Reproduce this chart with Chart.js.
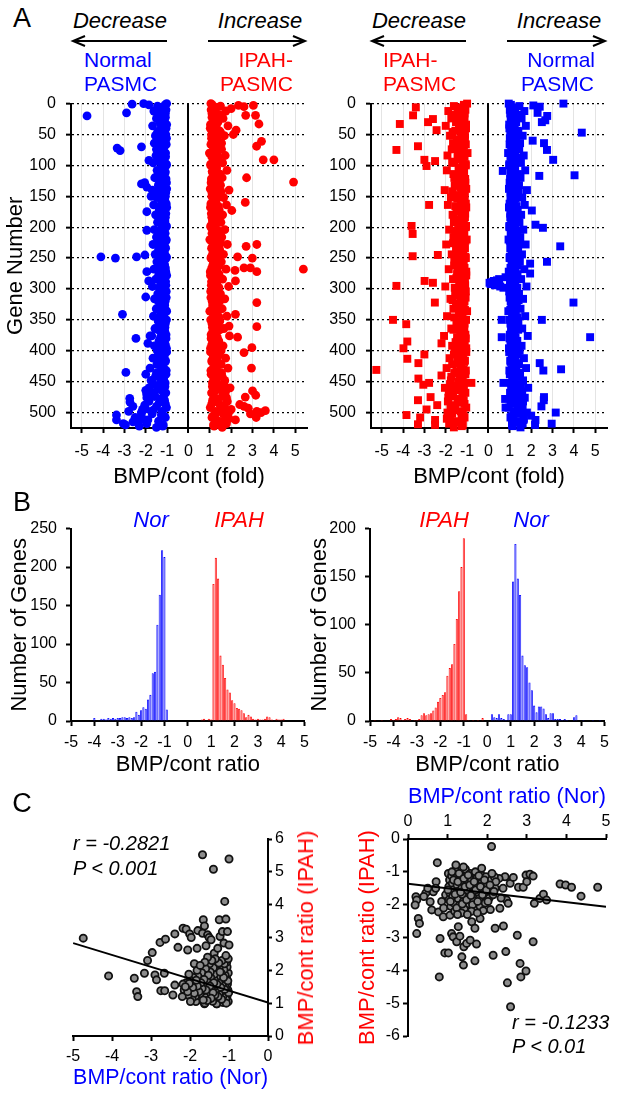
<!DOCTYPE html>
<html>
<head>
<meta charset="utf-8">
<script src="https://cdn.jsdelivr.net/npm/chart.js@4/dist/chart.umd.min.js"></script>
<style>
  body { margin: 0; background: #fff; }
  #fig { position: relative; width: 618px; height: 1093px; overflow: hidden; font-family: "Liberation Sans", Arial, sans-serif; }
  #fig canvas { position: absolute; }
  .t { position: absolute; white-space: nowrap; line-height: 1; z-index: 5; }
  svg { position: absolute; left: 0; top: 0; z-index: 5; }
</style>
</head>
<body>
<div id="fig"></div>
<script>
// ---- data ----
// Panel A: fold change per gene. *Fold lists start at gene 0, *Fold2 lists at gene 2, both every GENE_STEP genes
const GENE_STEP = 4;
const normDecFold = [
  -1.02,-1.45,-1.18,-1.62,-1.08,-1.31,-1.5,-1.12,-1.25,-1.68,-1.05,-1.38,
  -1.15,-1.55,-1.03,-1.28,-1.6,-1.1,-1.42,-1.2,-1.07,-1.52,-1.33,-1.14,
  -1.65,-1.04,-1.26,-1.47,-1.09,-1.36,-1.58,-1.16,-1.03,-1.41,-1.22,-1.7,
  -1.06,-1.3,-1.49,-1.11,-1.24,-1.63,-1.02,-1.37,-1.19,-1.54,-1.08,-1.29,
  -1.45,-1.13,-1.05,-1.6,-1.34,-1.17,-1.5,-1.04,-1.27,-1.66,-1.1,-1.4,
  -1.21,-1.56,-1.03,-1.32,-1.48,-1.12,-1.23,-1.62,-1.06,-1.39,-1.18,-1.53,
  -1.07,-1.3,-1.69,-1.14,-1.04,-1.44,-1.26,-1.59,-1.09,-1.35,-1.2,-1.51,
  -1.02,-1.28,-1.64,-1.15,-1.42,-1.08,-1.33,-1.57,-1.11,-1.25,-1.72,-1.05,
  -1.38,-1.19,-1.6,-1.03,-1.46,-1.29,-1.13,-1.66,-1.07,-1.36,-1.22,-1.8,
  -1.04,-1.5,-1.31,-1.16,-1.75,-1.09,-1.43,-1.85,-1.24,-1.06,-1.58,-1.95,
  -1.12,-1.37,-2.05,-1.03,-1.65,-2.2,-1.27,-1.08,-1.9,-2.35,-1.18,-1.5
];
const normDecFold2 = [
  -1.1,-1.3,-1.05,-1.22,-1.4,-1.08,-1.18,-1.35,-1.02,-1.27,-1.12,-1.45,
  -1.06,-1.2,-1.33,-1.1,-1.04,-1.25,-1.5,-1.15,-1.3,-1.07,-1.19,-1.38,
  -1.03,-1.16,-1.28,-1.09,-1.42,-1.21,-1.05,-1.34,-1.13,-1.24,-1.02,-1.46,
  -1.17,-1.08,-1.31,-1.2,-1.04,-1.36,-1.14,-1.26,-1.06,-1.41,-1.18,-1.1,
  -1.29,-1.03,-1.22,-1.37,-1.09,-1.15,-1.32,-1.05,-1.44,-1.19,-1.07,-1.27,
  -1.12,-1.35,-1.04,-1.23,-1.16,-1.4,-1.08,-1.3,-1.2,-1.02,-1.33,-1.13,
  -1.25,-1.06,-1.38,-1.17,-1.09,-1.28,-1.04,-1.45,-1.21,-1.11,-1.34,-1.07,
  -1.24,-1.15,-1.39,-1.03,-1.27,-1.18,-1.1,-1.43,-1.22,-1.05,-1.31,-1.14,
  -1.36,-1.08,-1.26,-1.19,-1.02,-1.4,-1.16,-1.3,-1.09,-1.48,-1.23,-1.12,
  -1.35,-1.05,-1.55,-1.2,-1.28,-1.65,-1.1,-1.42,-1.75,-1.15,-1.6,-1.3,
  -1.85,-1.08,-1.5,-2.0,-1.25,-1.7,-1.12,-2.15,-1.4,-1.95,-1.2
];
const ipahIncFold = [
  1.05,1.5,1.22,1.75,1.1,1.38,1.62,1.15,1.3,1.85,1.02,1.45,
  1.2,1.68,1.08,1.35,1.55,1.12,1.48,1.25,0.98,1.72,1.4,1.18,
  1.6,1.04,1.32,1.8,1.14,1.42,1.58,1.2,1.06,1.5,1.28,1.9,
  1.1,1.36,1.65,1.16,1.27,1.78,1.03,1.44,1.24,1.6,1.09,1.34,
  1.52,1.17,1.05,1.7,1.4,1.22,1.56,1.0,1.3,1.82,1.13,1.46,
  1.26,1.64,1.07,1.38,1.54,1.15,1.29,1.76,1.02,1.43,1.2,1.6,
  1.08,1.33,1.88,1.18,1.04,1.5,1.3,1.7,1.11,1.4,1.23,1.58,
  1.0,1.35,1.8,1.19,1.47,1.1,1.37,1.66,1.14,1.28,1.92,1.06,
  1.42,1.21,1.62,1.03,1.53,1.32,1.16,1.74,1.09,1.39,1.25,1.85,
  1.05,1.55,1.34,1.18,1.7,1.12,1.45,1.95,1.27,1.08,1.6,1.78,
  1.13,1.4,1.68,1.02,1.52,1.88,1.24,1.1,1.72,1.36,1.17,1.58
];
const ipahIncFold2 = [
  1.12,1.32,1.06,1.25,1.45,1.1,1.2,1.38,1.03,1.3,1.15,1.5,
  1.08,1.22,1.36,1.12,1.05,1.28,1.55,1.18,1.33,1.09,1.21,1.42,
  1.04,1.17,1.3,1.11,1.47,1.24,1.07,1.37,1.14,1.26,1.02,1.52,
  1.19,1.09,1.34,1.23,1.05,1.4,1.16,1.29,1.07,1.46,1.2,1.12,
  1.32,1.04,1.25,1.41,1.1,1.17,1.35,1.06,1.49,1.22,1.08,1.3,
  1.14,1.39,1.05,1.26,1.18,1.44,1.09,1.33,1.23,1.03,1.37,1.15,
  1.28,1.07,1.43,1.19,1.11,1.31,1.05,1.5,1.24,1.13,1.38,1.08,
  1.27,1.17,1.44,1.04,1.3,1.21,1.12,1.48,1.25,1.06,1.35,1.16,
  1.4,1.09,1.29,1.22,1.03,1.45,1.18,1.34,1.1,1.53,1.26,1.14,
  1.39,1.06,1.58,1.23,1.31,1.66,1.12,1.46,1.74,1.17,1.6,1.33,
  1.82,1.09,1.5,1.7,1.27,1.62,1.13,1.9,1.42,1.78,1.2
];
const ipahDecFold = [
  -1.0,-1.62,-1.28,-1.88,-1.12,-1.46,-1.74,-1.18,-1.36,-2.0,-1.05,-1.55,
  -1.24,-1.8,-1.1,-1.4,-1.66,-1.15,-1.52,-1.3,-0.98,-1.92,-1.44,-1.2,
  -1.7,-1.06,-1.34,-1.95,-1.16,-1.48,-1.6,-1.22,-1.08,-1.58,-1.32,-2.05,
  -1.12,-1.42,-1.76,-1.18,-1.28,-1.9,-1.04,-1.5,-1.26,-1.68,-1.1,-1.38,
  -1.62,-1.2,-1.06,-1.84,-1.44,-1.24,-1.64,-1.02,-1.33,-1.98,-1.14,-1.52,
  -1.28,-1.72,-1.08,-1.4,-1.6,-1.16,-1.3,-1.86,-1.04,-1.47,-1.22,-1.66,
  -1.1,-1.36,-2.02,-1.2,-1.06,-1.56,-1.32,-1.78,-1.12,-1.44,-1.26,-1.64,
  -1.0,-1.38,-1.94,-1.22,-1.5,-1.12,-1.4,-1.74,-1.16,-1.3,-2.08,-1.06,
  -1.46,-1.24,-1.7,-1.04,-1.58,-1.34,-1.18,-1.82,-1.1,-1.42,-1.28,-1.96,
  -1.06,-1.6,-1.36,-1.2,-1.76,-1.14,-1.5,-2.04,-1.3,-1.08,-1.66,-1.88,
  -1.16,-1.44,-1.74,-1.04,-1.56,-1.92,-1.26,-1.12,-1.8,-1.4,-1.2,-1.62
];
const ipahDecFold2 = [
  -1.15,-1.45,-1.08,-1.3,-1.6,-1.12,-1.25,-1.52,-1.05,-1.38,-1.2,-1.68,
  -1.1,-1.28,-1.48,-1.16,-1.06,-1.34,-1.72,-1.22,-1.44,-1.12,-1.26,-1.58,
  -1.07,-1.2,-1.4,-1.14,-1.64,-1.3,-1.09,-1.5,-1.18,-1.33,-1.04,-1.7,
  -1.24,-1.11,-1.46,-1.29,-1.06,-1.55,-1.2,-1.37,-1.09,-1.62,-1.26,-1.15,
  -1.42,-1.05,-1.31,-1.56,-1.13,-1.22,-1.48,-1.08,-1.66,-1.27,-1.1,-1.4,
  -1.18,-1.53,-1.06,-1.32,-1.23,-1.6,-1.12,-1.45,-1.29,-1.04,-1.5,-1.19,
  -1.36,-1.09,-1.58,-1.25,-1.14,-1.42,-1.07,-1.68,-1.3,-1.16,-1.52,-1.1,
  -1.34,-1.22,-1.6,-1.05,-1.4,-1.27,-1.13,-1.64,-1.32,-1.08,-1.47,-1.2,
  -1.54,-1.11,-1.36,-1.28,-1.04,-1.62,-1.23,-1.46,-1.14,-1.7,-1.33,-1.17,
  -1.5,-1.08,-1.74,-1.3,-1.4,-1.8,-1.15,-1.58,-1.86,-1.22,-1.66,-1.38,
  -1.9,-1.12,-1.56,-1.78,-1.3,-1.7,-1.16,-1.95,-1.48,-1.84,-1.25
];
const normIncFold = [
  0.95,1.45,1.15,1.68,1.02,1.3,1.55,1.08,1.22,1.75,0.98,1.38,
  1.12,1.6,1.0,1.28,1.48,1.06,1.4,1.18,0.92,1.65,1.33,1.1,
  1.52,0.97,1.25,1.72,1.07,1.36,1.5,1.14,0.99,1.43,1.2,1.8,
  1.04,1.3,1.58,1.09,1.2,1.7,0.96,1.37,1.16,1.53,1.02,1.27,
  1.45,1.1,0.98,1.63,1.33,1.15,1.49,0.94,1.23,1.74,1.06,1.39,
  1.19,1.57,1.0,1.31,1.47,1.08,1.22,1.68,0.95,1.36,1.13,1.53,
  1.01,1.26,1.78,1.11,0.97,1.43,1.23,1.62,1.04,1.33,1.16,1.5,
  0.93,1.28,1.72,1.12,1.4,1.03,1.3,1.58,1.07,1.21,1.84,0.99,
  1.35,1.14,1.55,0.96,1.46,1.25,1.09,1.66,1.02,1.32,1.18,1.76,
  0.98,1.48,1.27,1.11,1.62,1.05,1.38,1.86,1.2,1.01,1.52,1.7,
  1.06,1.33,1.6,0.95,1.45,1.8,1.17,1.03,1.64,1.29,1.1,1.5
];
const normIncFold2 = [
  1.05,1.25,1.0,1.18,1.36,1.04,1.14,1.3,0.97,1.22,1.08,1.4,
  1.02,1.16,1.28,1.06,0.99,1.2,1.44,1.1,1.26,1.03,1.15,1.33,
  0.98,1.11,1.24,1.05,1.38,1.17,1.01,1.29,1.08,1.19,0.96,1.42,
  1.13,1.03,1.27,1.16,0.99,1.32,1.1,1.22,1.02,1.37,1.14,1.06,
  1.25,0.98,1.18,1.34,1.04,1.11,1.28,1.0,1.4,1.16,1.02,1.23,
  1.08,1.31,0.99,1.19,1.12,1.36,1.03,1.26,1.16,0.97,1.3,1.09,
  1.21,1.01,1.35,1.13,1.05,1.24,0.99,1.41,1.17,1.07,1.29,1.02,
  1.2,1.11,1.36,0.98,1.23,1.14,1.06,1.39,1.18,1.0,1.27,1.1,
  1.32,1.03,1.22,1.15,0.97,1.37,1.12,1.26,1.04,1.43,1.19,1.08,
  1.3,1.0,1.46,1.16,1.24,1.52,1.06,1.35,1.58,1.11,1.44,1.25,
  1.62,1.03,1.38,1.55,1.2,1.48,1.07,1.66,1.33,1.6,1.14
];
// scattered genes off the main band: [gene number, fold]
const normDecOut = [[20,-4.75],[15,-2.9],[1,-2.64],[0,-2.1],[2,-1.85],[72,-3.34],[76,-3.2],[70,-2.2],[92,-1.85],
  [130,-2.2],[135,-1.95],[128,-2.05],[150,-1.75],[175,-1.95],[205,-1.95],[248,-4.1],[250,-3.42],[248,-2.43],
  [245,-2.04],[272,-1.95],[287,-1.86],[313,-2.0],[341,-3.09],[380,-2.46],[376,-1.8],[388,-1.9],[435,-2.93],
  [438,-2.0],[464,-2.0],[470,-1.96],[477,-2.75],[483,-2.74],[490,-2.6],[498,-2.8],[500,-2.2],[504,-3.37],
  [512,-3.37],[515,-2.6],[520,-2.95],[522,-2.3],[508,-2.5],[495,-2.15],[518,-3.05]];
const ipahIncOut = [[3,2.34],[3,3.04],[5,2.6],[19,2.68],[19,3.14],[33,3.3],[43,2.23],[61,3.42],[69,3.19],
  [91,3.5],[91,4.0],[120,2.72],[127,4.92],[8,2.0],[50,2.1],[160,2.66],[173,2.03],[228,3.2],[231,2.7],
  [250,2.99],[248,2.3],[266,2.6],[266,2.9],[270,2.18],[272,3.2],[268,5.38],[287,2.2],[322,3.2],[341,2.2],
  [360,1.9],[361,3.2],[378,2.3],[403,2.6],[395,2.97],[428,2.95],[465,3.0],[472,3.15],[475,2.66],[487,2.4],
  [490,2.6],[493,2.8],[498,3.2],[497,3.6],[500,3.4],[508,3.17],[502,2.9],[512,2.2],[495,2.0]];
const ipahDecOut = [[6,-3.4],[19,-3.53],[33,-4.15],[30,-2.83],[25,-2.6],[43,-2.43],[69,-3.3],[75,-4.31],
  [91,-3.0],[101,-2.9],[93,-2.5],[164,-2.78],[198,-3.6],[211,-3.55],[247,-3.55],[245,-2.37],[287,-2.99],
  [295,-4.31],[290,-2.6],[322,-2.51],[350,-4.47],[357,-3.85],[385,-3.8],[388,-2.2],[396,-3.98],[406,-3.0],
  [413,-3.8],[420,-3.28],[431,-5.25],[445,-3.28],[452,-2.78],[452,-0.8],[475,-2.71],[480,-3.3],[488,-2.4],
  [495,-2.9],[504,-3.84],[508,-3.2],[512,-2.5],[519,-3.3],[520,-2.5],[500,-1.2],[455,-3.05],[440,-2.2]];
const normIncOut = [[0,3.51],[3,2.1],[5,2.4],[15,2.3],[20,2.75],[27,2.66],[30,2.5],[47,4.37],[60,2.07],
  [64,2.6],[75,2.74],[91,3.03],[109,0.67],[116,4.03],[117,2.38],[173,2.03],[196,2.2],[201,2.55],[231,3.36],
  [256,2.74],[259,1.95],[275,1.95],[281,0.8],[284,0.5],[286,0.4],[287,0.25],[289,0.15],[290,0.05],[292,0.1],
  [294,0.3],[296,0.55],[298,0.7],[322,3.98],[350,2.5],[350,0.62],[378,4.76],[378,0.62],[420,2.4],[430,3.4],
  [432,2.57],[452,0.7],[475,2.6],[478,0.78],[480,2.59],[490,2.48],[492,0.8],[500,3.15],[518,2.96],
  [520,2.18],[512,2.2],[505,2.0]];

// Panel B: histograms, bin centre (ratio) and number of genes
const b1NorBins = [-4.0,-3.8,-3.7,-3.6,-3.5,-3.4,-3.3,-3.2,-3.1,-3.0,-2.9,-2.8,-2.7,-2.6,-2.5,-2.4,-2.3,-2.2,-2.1,-2.0,-1.9,-1.8,-1.7,-1.6,-1.5,-1.4,-1.3,-1.2,-1.1,-1.0,-0.9];
const b1NorCounts = [4,1,3,3,2,4,3,4,3,4,4,5,5,4,5,4,5,12,8,14,18,16,28,34,62,64,125,164,222,213,15];
const b1IpahBins = [0.6,0.7,0.8,0.9,1.0,1.1,1.2,1.3,1.4,1.5,1.6,1.7,1.8,1.9,2.0,2.1,2.2,2.3,2.4,2.5,2.6,2.7,2.8,2.9,3.0,3.1,3.2,3.3,3.4,3.5,3.6,3.7,3.8,3.9,4.0,4.1];
const b1IpahCounts = [2,3,1,3,2,178,212,185,85,73,56,41,37,27,23,17,16,14,10,5,8,6,3,2,3,2,2,3,6,5,2,1,3,2,2,3];
const b2IpahBins = [-4.8,-4.5,-4.1,-4.0,-3.9,-3.8,-3.7,-3.6,-3.5,-3.4,-3.3,-3.1,-3.0,-2.9,-2.8,-2.7,-2.6,-2.5,-2.4,-2.3,-2.2,-2.1,-2.0,-1.9,-1.8,-1.7,-1.6,-1.5,-1.4,-1.3,-1.2,-1.1,-1.0,-0.9,-0.8,-0.6,-0.4,-0.2];
const b2IpahCounts = [1,1,2,1,2,4,3,1,2,3,2,1,1,2,6,8,6,7,8,11,14,20,24,27,30,47,55,59,80,106,135,160,190,7,1,1,1,3];
const b2NorBins = [0.2,0.3,0.4,0.5,0.6,0.7,0.8,0.9,1.0,1.1,1.2,1.3,1.4,1.5,1.6,1.7,1.8,1.9,2.0,2.1,2.2,2.3,2.4,2.5,2.6,2.7,2.8,2.9,3.0,3.1,3.2,3.3,3.4,3.7,3.8,4.1,4.5,4.8];
const b2NorCounts = [7,4,3,7,3,2,1,7,7,145,184,148,131,68,58,56,40,32,16,9,15,15,13,7,3,8,8,2,2,2,1,2,1,4,6,1,1,1];

// Panel C: [Nor ratio, IPAH ratio] per gene
const corrDec = [
  [-4.74,2.98],[-4.09,1.83],[-3.43,1.76],[-3.37,1.35],[-3.34,1.2],[-3.17,1.91],[-3.09,2.3],[-2.97,2.54],
  [-2.9,1.86],[-2.86,1.71],[-2.75,1.38],[-2.77,2.85],[-2.63,2.95],[-2.65,1.38],[-2.66,1.91],[-2.39,3.11],
  [-2.44,1.25],[-2.31,2.7],[-2.39,1.55],[-2.18,3.28],[-2.1,3.25],[-2.06,2.62],[-2.01,3.11],[-1.97,3.0],
  [-1.89,2.2],[-1.8,3.21],[-1.82,2.67],[-1.68,5.52],[-1.66,3.54],[-1.63,3.35],[-1.68,3.13],[-1.59,2.75],
  [-1.55,3.08],[-1.51,3.0],[-1.46,2.93],[-1.4,5.08],[-1.38,2.52],[-1.29,2.67],[-1.25,3.54],[-1.23,3.03],
  [-1.17,3.18],[-1.11,4.1],[-1.08,3.56],[-1.04,3.18],[-1.13,2.83],[-1.0,5.39],[-1.0,2.77],[-1.63,0.98],[-1.31,0.98],
  [-1.02,1.05],[-1.05,1.22],[-1.03,1.4],[-1.04,1.58],[-1.06,1.75],[-1.02,1.92],[-1.05,2.1],[-1.08,1.12],
  [-1.1,1.3],[-1.09,1.48],[-1.12,1.66],[-1.1,1.85],[-1.13,2.02],[-1.15,1.02],[-1.16,1.2],[-1.18,1.38],
  [-1.17,1.55],[-1.2,1.72],[-1.19,1.9],[-1.22,2.15],[-1.24,1.1],[-1.25,1.28],[-1.27,1.46],[-1.26,1.64],
  [-1.29,1.82],[-1.3,2.0],[-1.32,0.98],[-1.33,1.17],[-1.35,1.35],[-1.34,1.53],[-1.37,1.7],[-1.38,1.88],
  [-1.4,2.08],[-1.42,1.06],[-1.43,1.25],[-1.45,1.42],[-1.44,1.6],[-1.47,1.78],[-1.48,1.95],[-1.5,2.2],
  [-1.52,1.12],[-1.54,1.3],[-1.55,1.5],[-1.57,1.68],[-1.58,1.86],[-1.6,2.05],[-1.62,1.0],[-1.63,1.2],
  [-1.65,1.38],[-1.67,1.57],[-1.68,1.75],[-1.7,1.93],[-1.73,1.1],[-1.75,1.28],[-1.76,1.47],[-1.78,1.65],
  [-1.8,1.83],[-1.82,2.0],[-1.85,1.05],[-1.86,1.22],[-1.88,1.4],[-1.9,1.6],[-1.92,1.78],[-1.95,1.15],
  [-1.97,1.33],[-1.98,1.52],[-2.0,1.7],[-2.03,1.88],[-2.05,1.25],[-2.08,1.45],[-2.1,1.62],[-2.15,1.4],
  [-2.18,1.58],[-2.2,1.2],[-1.01,1.32],[-1.03,1.68],[-1.07,1.0],[-1.11,1.42],[-1.14,1.78],[-1.19,1.12],
  [-1.21,1.48],[-1.23,1.95],[-1.28,1.2],[-1.31,1.58],[-1.36,1.25],[-1.39,1.62],[-1.41,1.32],[-1.46,1.15],
  [-1.49,1.52],[-1.53,1.85],[-1.56,1.08],[-1.59,1.4],[-1.64,1.72],[-1.66,1.1],[-1.69,1.45],[-1.72,1.62],
  [-1.77,1.35],[-1.81,1.52],[-1.84,1.7],[-1.89,1.3],[-1.93,1.48],[-1.99,1.05],[-2.02,1.6],[-2.06,1.35],
  [-2.12,1.5],[-1.06,2.25],[-1.12,2.2],[-1.18,2.3],[-1.26,2.22],[-1.35,2.35],[-1.44,2.3],[-1.55,2.4],
  [-1.62,2.25],[-1.74,2.15],[-1.02,2.35],[-1.08,2.45]
];
const corrInc = [
  [2.11,-0.23],[0.74,-0.72],[0.2,-1.76],[0.22,-1.86],[0.18,-2.01],[0.22,-2.88],[0.26,-2.42],[0.29,-2.57],
  [0.56,-1.91],[0.64,-1.61],[0.71,-1.3],[0.6,-2.16],[0.77,-2.22],[0.81,-3.03],[0.79,-4.2],[0.93,-3.47],
  [1.02,-3.47],[0.89,-2.37],[1.06,-2.32],[1.1,-2.88],[1.14,-2.98],[1.23,-3.13],[1.27,-2.67],[1.31,-2.96],
  [1.36,-3.59],[1.4,-3.84],[1.41,-3.28],[1.48,-3.18],[1.57,-3.08],[1.61,-2.52],[1.69,-2.72],[1.69,-3.71],
  [1.73,-3.2],[1.82,-2.42],[2.15,-3.54],[2.2,-2.72],[2.41,-2.65],[2.47,-3.43],[2.51,-4.38],[2.59,-5.11],
  [2.76,-2.93],[2.83,-3.79],[2.85,-4.2],[2.98,-4.02],[3.16,-3.13],[3.19,-1.96],[2.45,-1.15],[2.58,-1.35],
  [2.66,-1.17],[2.79,-1.47],[2.91,-1.47],[2.98,-1.1],[3.08,-1.07],[3.16,-1.13],[3.0,-1.3],[2.49,-1.86],
  [2.53,-1.96],[2.32,-2.11],[3.33,-1.81],[3.42,-1.68],[3.5,-1.86],[3.84,-1.37],[3.98,-1.4],[4.13,-1.47],
  [4.37,-1.74],[4.79,-1.47],[0.45,-1.65],[0.5,-1.5],[0.85,-1.9],[0.9,-2.1],[0.95,-1.7],[0.7,-1.5],
  [0.4,-1.75],[2.3,-1.2],[2.4,-1.5],[2.35,-1.8],
  [1.02,-1.05],[1.05,-1.25],[1.03,-1.45],[1.06,-1.65],[1.04,-1.85],[1.08,-2.05],[1.1,-1.12],[1.12,-1.35],
  [1.14,-1.55],[1.13,-1.75],[1.16,-1.95],[1.18,-2.2],[1.2,-0.95],[1.22,-1.18],[1.24,-1.4],[1.25,-1.6],
  [1.27,-1.82],[1.3,-2.02],[1.32,-1.08],[1.34,-1.28],[1.36,-1.5],[1.38,-1.7],[1.4,-1.9],[1.42,-2.12],
  [1.45,-0.92],[1.47,-1.15],[1.49,-1.35],[1.5,-1.55],[1.53,-1.78],[1.55,-1.98],[1.57,-1.05],[1.6,-1.25],
  [1.62,-1.45],[1.64,-1.65],[1.66,-1.88],[1.68,-2.1],[1.7,-1.0],[1.73,-1.2],[1.75,-1.4],[1.77,-1.62],
  [1.8,-1.82],[1.82,-2.05],[1.85,-1.1],[1.87,-1.32],[1.9,-1.52],[1.92,-1.72],[1.95,-1.95],[1.97,-1.15],
  [2.0,-1.38],[2.03,-1.6],[2.05,-1.8],[2.08,-2.15],[2.1,-1.25],[2.13,-1.48],[2.15,-1.7],[2.18,-1.15],
  [2.2,-1.5],[2.22,-1.3],[1.01,-1.55],[1.07,-1.9],[1.11,-1.0],[1.15,-1.25],[1.19,-1.68],[1.23,-2.1],
  [1.26,-1.3],[1.29,-1.05],[1.33,-1.62],[1.37,-1.98],[1.41,-1.2],[1.44,-1.45],[1.48,-1.85],[1.52,-1.1],
  [1.56,-1.4],[1.59,-1.72],[1.63,-2.0],[1.67,-1.3],[1.71,-1.55],[1.76,-1.9],[1.79,-1.12],[1.83,-1.45],
  [1.88,-1.7],[1.93,-1.25],[1.98,-1.55],[2.02,-1.9],[2.07,-1.4],[2.12,-1.05],[2.17,-1.6],[1.35,-2.25],
  [1.6,-2.2],[1.9,-2.18],[1.25,-2.3],[1.5,-2.3],[1.75,-2.25],[1.86,-0.89],[1.21,-0.79],[1.4,-0.85]
];
// regression lines (axis-end values)
const fitDecX = [-5, 0], fitDecY = [2.83, 1.02];
const fitIncX = [0, 5], fitIncY = [-1.36, -2.06];

// ---- drawing ----
const BLUE = '#0000ff', RED = '#ff0000';
Chart.defaults.font.family = '"Liberation Sans", Arial, sans-serif';
Chart.defaults.color = '#000';
Chart.defaults.animation = false;
Chart.defaults.plugins.legend.display = false;
Chart.defaults.plugins.tooltip.enabled = false;

const fig = document.getElementById('fig');

function txt(s, x, y, o = {}) {
  const d = document.createElement('div');
  d.className = 't';
  d.textContent = s;
  d.style.left = x + 'px';
  d.style.top = y + 'px';
  d.style.fontSize = (o.size || 21) + 'px';
  d.style.color = o.color || '#000';
  if (o.italic) d.style.fontStyle = 'italic';
  const ax = o.align === 'left' ? '0' : o.align === 'right' ? '-100%' : '-50%';
  d.style.transform = `translate(${ax},-50%)` + (o.rot ? ` rotate(${o.rot}deg)` : '');
  fig.appendChild(d);
}

function canvasAt(b) {
  const c = document.createElement('canvas');
  c.width = b.w; c.height = b.h;
  c.style.left = b.x + 'px'; c.style.top = b.y + 'px';
  fig.appendChild(c);
  return c;
}

function axis(o) {
  return {
    type: 'linear', position: o.pos, min: o.min, max: o.max, reverse: !!o.reverse, offset: false,
    afterFit: s => { if (s.isHorizontal()) s.height = o.size; else s.width = o.size; },
    ticks: { stepSize: o.step, includeBounds: false, autoSkip: false, maxRotation: 0,
             font: { size: 16 }, color: '#000', padding: o.tickPad },
    grid: { display: true, offset: false, drawOnChartArea: !!o.gridColor,
            color: o.gridColor || '#000', lineWidth: o.gridWidth || 1,
            tickColor: '#000', tickWidth: 2, tickLength: o.tickLen || 5, tickBorderDash: [] },
    border: { color: '#000', width: 2, dash: o.dash || [] },
    title: o.title ? { display: true, text: o.title, color: o.titleColor || '#000',
                       font: { size: 22 }, padding: { top: o.titlePad, bottom: o.titlePad } }
                   : { display: false }
  };
}

// box = canvas rectangle, area = wanted plot rectangle (page pixels)
function makeChart(box, area, type, datasets, xo, yo) {
  const pad = { left: area.l - box.x, top: area.t - box.y, right: box.x + box.w - area.r, bottom: box.y + box.h - area.b };
  if (yo.pos === 'left') { yo.size = pad.left; pad.left = 0; } else { yo.size = pad.right; pad.right = 0; }
  if (xo.pos === 'bottom') { xo.size = pad.bottom; pad.bottom = 0; } else { xo.size = pad.top; pad.top = 0; }
  return new Chart(canvasAt(box), {
    type, data: { datasets },
    options: {
      responsive: false, devicePixelRatio: 1,
      layout: { padding: pad },
      scales: { x: axis(xo), y: axis(yo) }
    }
  });
}

const band = (vals, first) => vals.map((v, i) => ({ x: v, y: first + i * GENE_STEP }));
const outl = arr => arr.map(([g, f]) => ({ x: f, y: g }));
const dots = (data, color, style, r) => ({ data, pointStyle: style, pointRadius: r, pointBorderWidth: 0,
  backgroundColor: color, borderColor: color, clip: false });
const zeroGrid = {
  color: c => (c.tick && c.tick.value === 0) ? '#000' : '#e4e4e4',
  width: c => (c.tick && c.tick.value === 0) ? 2 : 1
};

// Panel A
function panelA(box, area, sets, withTitle) {
  makeChart(box, area, 'scatter', sets,
    { pos: 'bottom', min: -5.5, max: 5.55, step: 1, tickPad: 9, gridColor: zeroGrid.color, gridWidth: zeroGrid.width,
      title: 'BMP/cont (fold)', titlePad: 2 },
    { pos: 'left', min: 0, max: 525, step: 50, reverse: true, tickPad: 10, gridColor: '#000', gridWidth: 1.3,
      dash: [2, 3], title: withTitle ? 'Gene Number' : null, titlePad: 3 });
}
panelA({ x: 0, y: 84, w: 312, h: 408 }, { l: 71, t: 98, r: 307, b: 428 }, [
  dots(band(normDecFold, 0), BLUE, 'circle', 4.4), dots(band(normDecFold2, 2), BLUE, 'circle', 4.4),
  dots(outl(normDecOut), BLUE, 'circle', 4.4),
  dots(band(ipahIncFold, 0), RED, 'circle', 4.4), dots(band(ipahIncFold2, 2), RED, 'circle', 4.4),
  dots(outl(ipahIncOut), RED, 'circle', 4.4)
], true);
panelA({ x: 300, y: 84, w: 316, h: 408 }, { l: 371, t: 98, r: 607, b: 428 }, [
  dots(band(ipahDecFold, 0), RED, 'rect', 5.6), dots(band(ipahDecFold2, 2), RED, 'rect', 5.6),
  dots(outl(ipahDecOut), RED, 'rect', 5.6),
  dots(band(normIncFold, 0), BLUE, 'rect', 5.6), dots(band(normIncFold2, 2), BLUE, 'rect', 5.6),
  dots(outl(normIncOut), BLUE, 'rect', 5.6)
], false);

// Panel B
const hist = (bins, counts, fill, edge) => ({
  data: bins.map((b, i) => ({ x: b, y: counts[i] })),
  backgroundColor: fill, borderColor: edge, borderWidth: 0.8,
  barPercentage: 0.92, categoryPercentage: 1, grouped: false
});
function panelB(box, area, ymax, sets) {
  makeChart(box, area, 'bar', sets,
    { pos: 'bottom', min: -5, max: 5, step: 1, tickPad: 7, title: 'BMP/cont ratio', titlePad: 2 },
    { pos: 'left', min: 0, max: ymax, step: 50, tickPad: 9, title: 'Number of Genes', titlePad: 6.8 });
}
panelB({ x: 0, y: 510, w: 316, h: 270 }, { l: 71, t: 524, r: 307, b: 721 }, 250, [
  hist(b1NorBins, b1NorCounts, 'rgba(40,40,255,0.55)', BLUE),
  hist(b1IpahBins, b1IpahCounts, 'rgba(255,40,40,0.5)', RED)
]);
panelB({ x: 300, y: 510, w: 316, h: 270 }, { l: 370, t: 524, r: 606, b: 721 }, 200, [
  hist(b2IpahBins, b2IpahCounts, 'rgba(255,40,40,0.5)', RED),
  hist(b2NorBins, b2NorCounts, 'rgba(40,40,255,0.55)', BLUE)
]);

// Panel C
const fitLine = (xs, ys) => ({ data: xs.map((x, i) => ({ x, y: ys[i] })), showLine: true, pointRadius: 0,
  borderColor: '#000', borderWidth: 2 });
const rings = pairs => ({ data: pairs.map(([x, y]) => ({ x, y })), pointRadius: 3.6, pointBorderWidth: 1.8,
  borderColor: '#111', backgroundColor: '#8c8c8c', clip: false });
makeChart({ x: 60, y: 825, w: 260, h: 268 }, { l: 71, t: 839, r: 268, b: 1036 }, 'scatter',
  [fitLine(fitDecX, fitDecY), rings(corrDec)],
  { pos: 'bottom', min: -5, max: 0, step: 1, tickPad: 6, title: 'BMP/cont ratio (Nor)', titleColor: BLUE, titlePad: 2 },
  { pos: 'right', min: 0, max: 6, step: 1, tickPad: 3, tickLen: 4 });
makeChart({ x: 330, y: 783, w: 286, h: 268 }, { l: 408, t: 839, r: 606, b: 1036 }, 'scatter',
  [fitLine(fitIncX, fitIncY), rings(corrInc)],
  { pos: 'top', min: 0, max: 5, step: 1, tickPad: 3, title: 'BMP/cont ratio (Nor)', titleColor: BLUE, titlePad: 1 },
  { pos: 'left', min: -6, max: 0, step: 1, tickPad: 3, title: 'BMP/cont ratio (IPAH)', titleColor: RED, titlePad: 24.8 });

// ---- annotations ----
txt('A', 22, 18, { size: 27 });
txt('B', 22, 502, { size: 27 });
txt('C', 22, 803, { size: 27 });

txt('Decrease', 120, 21, { italic: true, size: 22 });
txt('Increase', 260, 21, { italic: true, size: 22 });
txt('Decrease', 419, 21, { italic: true, size: 22 });
txt('Increase', 559, 21, { italic: true, size: 22 });
txt('Normal', 84, 59, { color: BLUE, align: 'left' });
txt('PASMC', 84, 83, { color: BLUE, align: 'left' });
txt('IPAH-', 293, 59, { color: RED, align: 'right' });
txt('PASMC', 293, 83, { color: RED, align: 'right' });
txt('IPAH-', 383, 59, { color: RED, align: 'left' });
txt('PASMC', 383, 83, { color: RED, align: 'left' });
txt('Normal', 595, 59, { color: BLUE, align: 'right' });
txt('PASMC', 594, 83, { color: BLUE, align: 'right' });

txt('Nor', 151, 520, { color: BLUE, italic: true, size: 22 });
txt('IPAH', 239, 520, { color: RED, italic: true, size: 22 });
txt('IPAH', 444, 520, { color: RED, italic: true, size: 22 });
txt('Nor', 531, 520, { color: BLUE, italic: true, size: 22 });

txt('r = -0.2821', 73, 843, { italic: true, size: 20, align: 'left' });
txt('P < 0.001', 73, 868, { italic: true, size: 20, align: 'left' });
txt('r = -0.1233', 512, 1022, { italic: true, size: 20, align: 'left' });
txt('P < 0.01', 512, 1046, { italic: true, size: 20, align: 'left' });
txt('BMP/cont ratio (IPAH)', 306, 938, { color: RED, size: 22, rot: -90 });

// arrows under Decrease / Increase
const ns = 'http://www.w3.org/2000/svg';
const svg = document.createElementNS(ns, 'svg');
svg.setAttribute('width', 618); svg.setAttribute('height', 120);
function arrow(x1, x2, y, toLeft) {
  const tip = toLeft ? x1 : x2, k = toLeft ? 12 : -12;
  const p = document.createElementNS(ns, 'path');
  p.setAttribute('d', `M${x1},${y}H${x2}M${tip + k},${y - 5}L${tip},${y}L${tip + k},${y + 5}`);
  p.setAttribute('stroke', '#000'); p.setAttribute('stroke-width', 2); p.setAttribute('fill', 'none');
  svg.appendChild(p);
}
arrow(73, 167, 41, true);
arrow(208, 305, 41, false);
arrow(372, 466, 41, true);
arrow(507, 605, 41, false);
fig.appendChild(svg);
</script>
</body>
</html>
